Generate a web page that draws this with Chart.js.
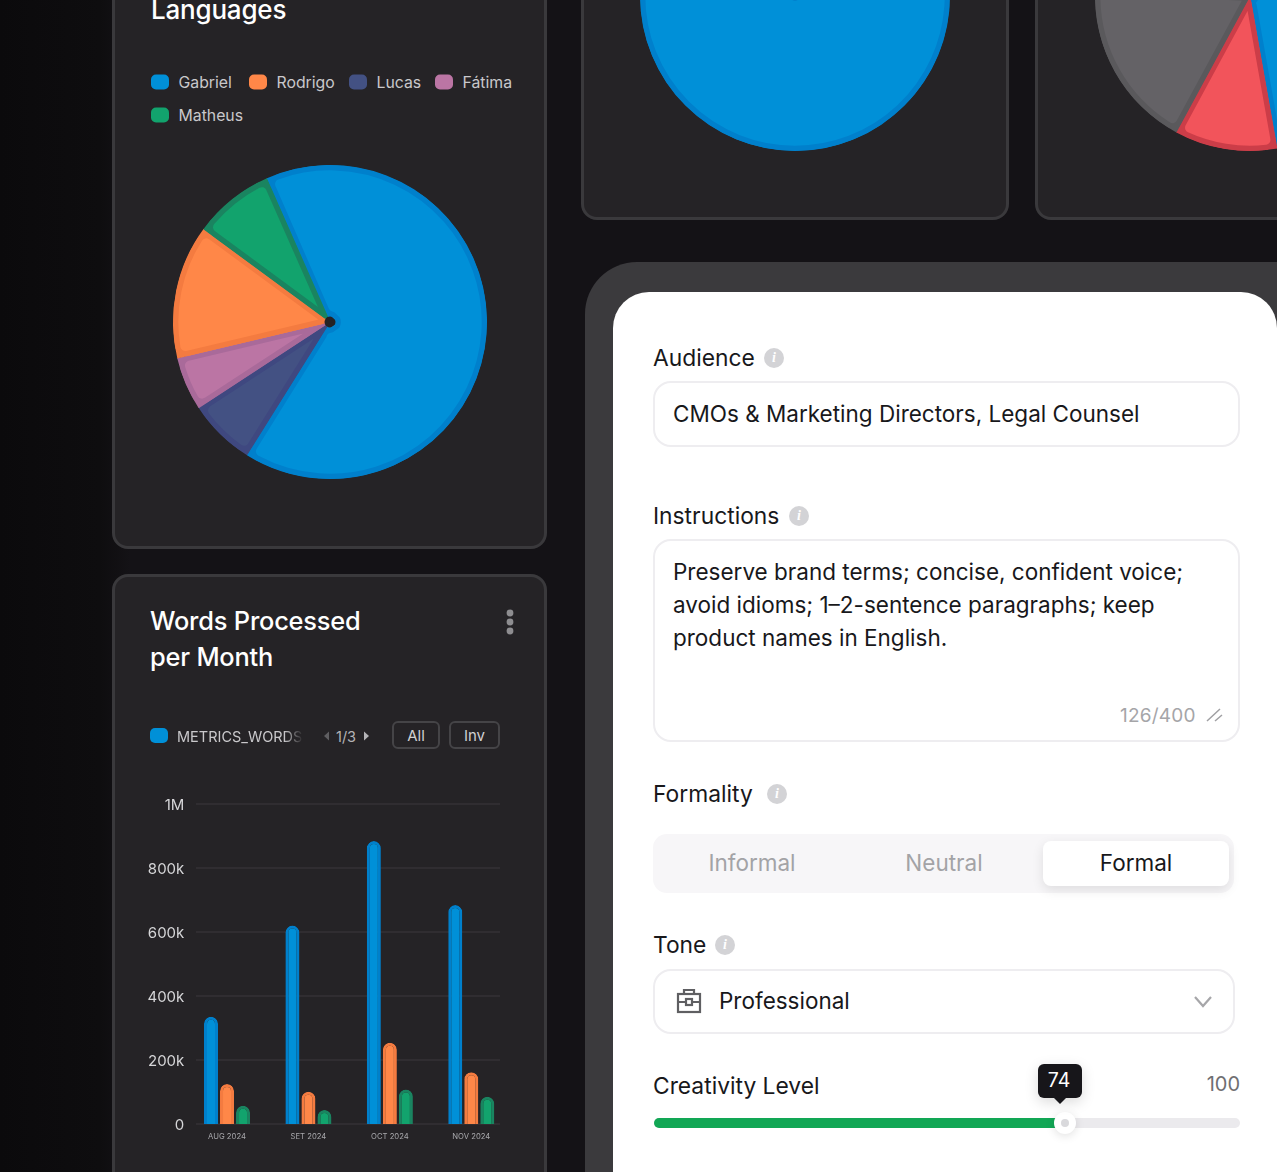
<!DOCTYPE html>
<html>
<head>
<meta charset="utf-8">
<script src="https://cdn.jsdelivr.net/npm/chart.js@4"></script>
<style>
  html, body { margin: 0; width: 1277px; height: 1172px; overflow: hidden; }
  body { background: linear-gradient(90deg, #0b0a0c 0, #0e0d0f 100px, #141216 130px); font-family: Inter, sans-serif; position: relative; }
  .abs, canvas, .card, .field, .txt { position: absolute; }
  .card { background: #252326; border: 3px solid #3a393c; border-radius: 16px; box-sizing: border-box; }
  .title { position: absolute; color: #fff; font-size: 26px; font-weight: 500; letter-spacing: -0.2px; line-height: 36px; }
  .txt { white-space: nowrap; line-height: 1; transform: translateY(-50%); }
  .legend-item { position: absolute; display: flex; align-items: center; color: #c9c8cb; font-size: 15.8px; transform: translateY(-50%); }
  .swatch { display: inline-block; width: 18px; height: 15px; border-radius: 5px; margin-right: 9.5px; }
  .btn { position: absolute; top: 721px; height: 24px; border: 2px solid #454447; border-radius: 6px; color: #d0d0d2; font-size: 15px; text-align: center; line-height: 26px; }
  #panelOuter { position: absolute; left: 585px; top: 262px; width: 760px; height: 1000px; background: #3b3a3d; border-radius: 52px; }
  #panel { position: absolute; left: 613px; top: 292px; width: 664px; height: 900px; background: #fff; border-radius: 36px 36px 0 0; }
  .field { border: 2px solid #eeedf0; border-radius: 18px; box-sizing: border-box; background: #fff; }
  .lbl { color: #18181b; font-size: 22.8px; font-weight: 400; margin-top: -1px; }
  .val { color: #18181b; font-size: 22.5px; margin-top: -1px; }
  .info { position: absolute; width: 20px; height: 20px; border-radius: 50%; background: #d3d3d6; color: #fff; font: italic 700 14px/20px "Liberation Serif", serif; text-align: center; transform: translate(-50%, -50%); }
</style>
</head>
<body>
<div class="card" style="left:112px;top:-40px;width:435px;height:589px"></div>
<div class="card" style="left:112px;top:574px;width:435px;height:660px"></div>
<div class="card" style="left:581px;top:-40px;width:428px;height:260px"></div>
<div class="card" style="left:1035px;top:-40px;width:300px;height:260px"></div>

<div class="title" style="left:151px;top:-8px">Languages</div>
<div id="pieLegend"></div>
<canvas id="langPie" width="340" height="344" style="left:160px;top:150px"></canvas>
<canvas id="middlePie" width="340" height="344" style="left:625px;top:-176px"></canvas>
<canvas id="rightPie" width="340" height="344" style="left:1080px;top:-176px"></canvas>

<div class="title" style="left:150px;top:603px;font-size:25.4px">Words Processed<br>per Month</div>
<svg class="abs" style="left:504px;top:608px" width="12" height="30"><circle cx="6" cy="5" r="3.4" fill="#8e8d90"/><circle cx="6" cy="14" r="3.4" fill="#8e8d90"/><circle cx="6" cy="23" r="3.4" fill="#8e8d90"/></svg>
<span class="swatch abs" style="left:150px;top:728px;margin:0;background:#0090d8"></span>
<div class="txt" style="left:177px;top:737px;width:126px;overflow:hidden;color:#c9c8cb;font-size:14.5px;height:18px;line-height:18px;-webkit-mask-image:linear-gradient(90deg,#000 85%,transparent)">METRICS_WORDS</div>
<svg class="abs" style="left:322px;top:730px" width="50" height="12"><path d="M7 1.5 L2 6 L7 10.5Z" fill="#5f5e61"/><path d="M42 1.5 L47 6 L42 10.5Z" fill="#b4b3b6"/></svg>
<div class="txt" style="left:336px;top:737px;color:#b4b3b6;font-size:14.5px">1/3</div>
<div class="btn" style="left:392px;width:44px">All</div>
<div class="btn" style="left:449px;width:47px">Inv</div>
<canvas id="wordsChart" width="392" height="364" style="left:120px;top:790px"></canvas>

<div id="panelOuter"></div>
<div id="panel"></div>

<div class="txt lbl" style="left:653px;top:359px">Audience</div><div class="info" style="left:774px;top:358px">i</div>
<div class="field" style="left:653px;top:381px;width:587px;height:66px"></div>
<div class="txt val" style="left:673px;top:415px">CMOs &amp; Marketing Directors, Legal Counsel</div>

<div class="txt lbl" style="left:653px;top:517px">Instructions</div><div class="info" style="left:799px;top:516px">i</div>
<div class="field" style="left:653px;top:539px;width:587px;height:203px"></div>
<div class="txt val" style="left:673px;top:573px">Preserve brand terms; concise, confident voice;</div>
<div class="txt val" style="left:673px;top:606px">avoid idioms; 1–2-sentence paragraphs; keep</div>
<div class="txt val" style="left:673px;top:639px">product names in English.</div>
<div class="txt" style="left:1120px;top:715px;color:#a5a5a8;font-size:19px;letter-spacing:.2px">126/400</div>
<svg class="abs" style="left:1206px;top:707px" width="18" height="16"><path d="M1 14 L14 2 M9 14 L16 8" stroke="#a0a0a3" stroke-width="1.5" fill="none"/></svg>

<div class="txt lbl" style="left:653px;top:795px">Formality</div><div class="info" style="left:777px;top:794px">i</div>
<div class="abs" style="left:653px;top:834px;width:581px;height:59px;background:#f7f6f8;border-radius:14px"></div>
<div class="abs" style="left:1043px;top:841px;width:186px;height:45px;background:#fff;border-radius:8px;box-shadow:0 4px 12px rgba(0,0,0,.1)"></div>
<div class="txt val" style="left:752px;top:864px;color:#a3a3a6;transform:translate(-50%,-50%)">Informal</div>
<div class="txt val" style="left:944px;top:864px;color:#a3a3a6;transform:translate(-50%,-50%)">Neutral</div>
<div class="txt val" style="left:1136px;top:864px;transform:translate(-50%,-50%)">Formal</div>

<div class="txt lbl" style="left:653px;top:946px">Tone</div><div class="info" style="left:725px;top:945px">i</div>
<div class="field" style="left:653px;top:969px;width:582px;height:65px"></div>
<svg class="abs" style="left:676px;top:988px" width="26" height="26" fill="none" stroke="#5f5f62" stroke-width="2.2"><rect x="2" y="6" width="22" height="18"/><path d="M8 6 V2 H18 V6 M2 14 H24"/><rect x="10" y="11" width="6" height="6" fill="#fff"/></svg>
<div class="txt val" style="left:719px;top:1002px">Professional</div>
<svg class="abs" style="left:1193px;top:995px" width="20" height="14"><path d="M2 2 L10 11 L18 2" stroke="#a6a6a9" stroke-width="2.2" fill="none"/></svg>

<div class="txt lbl" style="left:653px;top:1087px">Creativity Level</div>
<div class="txt" style="right:37px;top:1084px;color:#6f6f72;font-size:20px">100</div>
<div class="abs" style="left:654px;top:1118px;width:586px;height:10px;background:#ebeaed;border-radius:5px"></div>
<div class="abs" style="left:654px;top:1118px;width:411px;height:10px;background:#12a755;border-radius:5px 0 0 5px"></div>
<div class="abs" style="left:1054px;top:1112px;width:22px;height:22px;border-radius:50%;background:#fff;box-shadow:0 2px 10px rgba(0,0,0,.12)"></div>
<div class="abs" style="left:1061px;top:1119px;width:8px;height:8px;border-radius:50%;background:#d9d9dc"></div>
<div class="abs" style="left:1038px;top:1064px;width:44px;height:34px;background:#17161a;border-radius:6px;box-shadow:0 4px 14px rgba(0,0,0,.15)"></div>
<svg class="abs" style="left:1053px;top:1097px" width="14" height="8"><path d="M0 0 H14 L7 7Z" fill="#17161a"/></svg>
<div class="txt" style="left:1059px;top:1081px;color:#fff;font-size:19.5px;transform:translate(-50%,-50%)">74</div>

<script>
/* Languages pie, slices in drawing order (clockwise from the blue one) */
const pieNames = ['Gabriel', 'Lucas', 'Fátima', 'Rodrigo', 'Matheus'];
const pieValues = [65.5, 6.9, 5.5, 13.8, 8.3];
const pieFills = ['#0090d8', '#435183', '#bb75a4', '#ff8748', '#12a36d'];
const pieBorders = ['#0080cc', '#3f4880', '#a96a9a', '#f47b40', '#1a8460'];

/* The legend lists the names in another order than the slices */
const legendNames = ['Gabriel', 'Rodrigo', 'Lucas', 'Fátima', 'Matheus'];
const legendLeft = [151, 249, 349, 435, 151];
const legendTop = [82, 82, 82, 82, 115];

/* Middle card: one single slice */
const middleNames = ['Gabriel'];
const middleValues = [100];

/* Right card: the top of this pie is cut off by the page */
const rightNames = ['Gabriel', 'Rodrigo', 'Lucas', 'Fátima'];
const rightValues = [47.2, 10.7, 17.9, 24.2];
const rightFills = ['#0090d8', '#f2545b', '#646266', '#ff8748'];
const rightBorders = ['#0080cc', '#cc3d48', '#5a595c', '#f47b40'];

/* Words per month */
const months = ['AUG 2024', 'SET 2024', 'OCT 2024', 'NOV 2024'];
const blueWords = [335000, 620000, 884000, 684000];
const orangeWords = [125000, 101000, 254000, 162000];
const greenWords = [57000, 44000, 108000, 85000];
const yTickLabels = ['0', '200k', '400k', '600k', '800k', '1M'];

Chart.defaults.animation = false;
Chart.defaults.font.family = 'Inter, sans-serif';

legendNames.forEach((name, i) => {
  const item = document.createElement('div');
  item.className = 'legend-item';
  item.style.left = legendLeft[i] + 'px';
  item.style.top = legendTop[i] + 'px';
  const fill = pieFills[pieNames.indexOf(name)];
  item.innerHTML = `<span class="swatch" style="background:${fill}"></span>${name}`;
  document.getElementById('pieLegend').appendChild(item);
});

function drawPie(id, labels, values, fills, borders, radius, rotation, cutout) {
  new Chart(document.getElementById(id), {
    type: 'pie',
    data: {
      labels,
      datasets: [{
        data: values,
        backgroundColor: fills,
        borderColor: borders,
        borderWidth: 5,
        borderAlign: 'inner',
        borderRadius: 10
      }]
    },
    options: {
      responsive: false,
      radius,
      rotation,
      // small hole so the inner corners can round off like in the reference
      cutout,
      plugins: { legend: { display: false }, tooltip: { enabled: false } }
    }
  });
}
drawPie('langPie', pieNames, pieValues, pieFills, pieBorders, 157, 336.2, 6);
drawPie('middlePie', middleNames, middleValues, ['#0090d8'], ['#0080cc'], 155, 0, 0);
drawPie('rightPie', rightNames, rightValues, rightFills, rightBorders, 155, 0, 4);

/* Gridlines stop short of the plot area, so they are drawn here from the y scale */
const shortGrid = {
  id: 'shortGrid',
  beforeDatasetsDraw(chart) {
    const { ctx, scales: { y } } = chart;
    ctx.save();
    ctx.strokeStyle = '#343236';
    ctx.lineWidth = 1.5;
    y.ticks.forEach(t => {
      const py = y.getPixelForValue(t.value);
      ctx.beginPath();
      ctx.moveTo(76, py);
      ctx.lineTo(380, py);
      ctx.stroke();
    });
    ctx.restore();
  }
};

function wordsBars(data, fill, border) {
  return {
    data,
    backgroundColor: fill,
    borderColor: border,
    borderWidth: 3,
    borderSkipped: 'bottom',
    borderRadius: { topLeft: 7, topRight: 7 },
    categoryPercentage: 0.59,
    barPercentage: 0.875
  };
}

new Chart(document.getElementById('wordsChart'), {
  type: 'bar',
  data: {
    labels: months,
    datasets: [
      wordsBars(blueWords, '#0090d8', '#0080cc'),
      wordsBars(orangeWords, '#ff8748', '#f47b40'),
      wordsBars(greenWords, '#12a36d', '#1a8460')
    ]
  },
  plugins: [shortGrid],
  options: {
    responsive: false,
    layout: { padding: { top: 14 } },
    plugins: { legend: { display: false }, tooltip: { enabled: false } },
    scales: {
      x: {
        grid: { display: false, drawTicks: false },
        border: { display: false },
        afterFit: s => { s.height = 30; },
        ticks: { color: '#a8a8ac', font: { size: 7.7 }, padding: 8, maxRotation: 0 }
      },
      y: {
        min: 0,
        max: 1000000,
        grid: { display: false, drawTicks: false },
        border: { display: false },
        afterFit: s => { s.width = 66.3; },
        ticks: {
          stepSize: 200000,
          padding: 2,
          labelOffset: 1.5,
          color: '#d6d6d8',
          font: { size: 15 },
          callback: (v) => yTickLabels[v / 200000]
        }
      }
    }
  }
});
</script>
</body>
</html>
